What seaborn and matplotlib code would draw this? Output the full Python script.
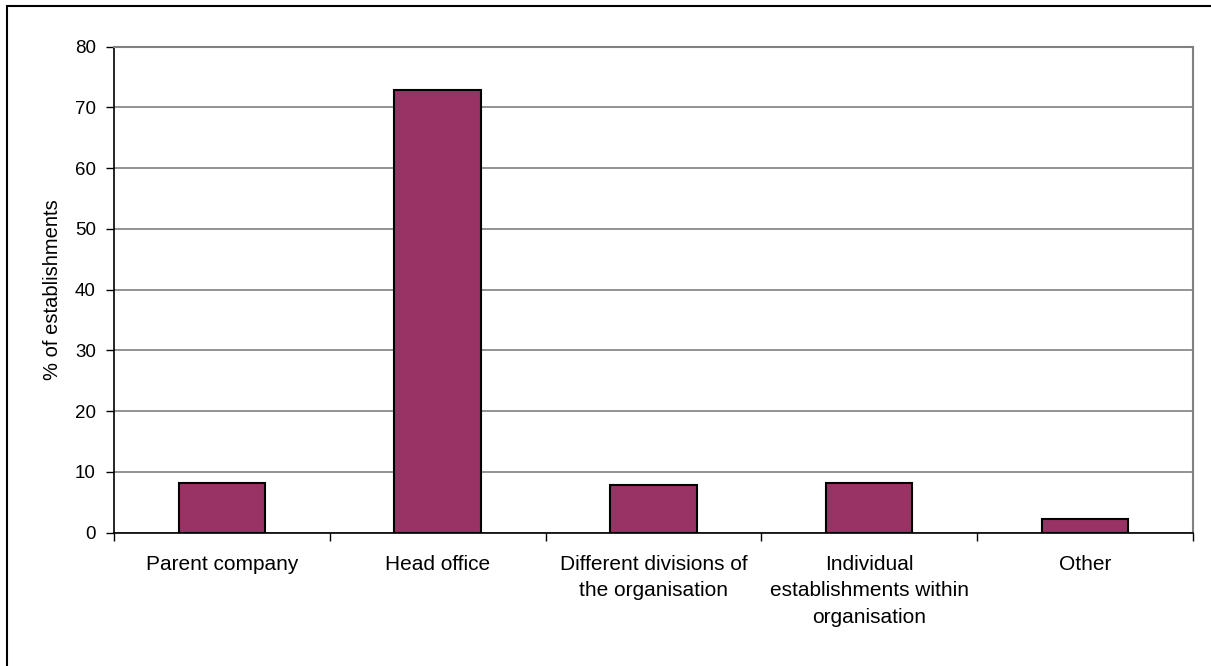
import matplotlib
matplotlib.use("Agg")
import matplotlib.pyplot as plt
import pandas as pd
import numpy as np
import seaborn as sns
from matplotlib.patches import Rectangle

categories = ['Parent company', 'Head office', 'Different divisions of\nthe organisation',
              'Individual\nestablishments within\norganisation', 'Other']
values = [8.2, 72.9, 7.9, 8.2, 2.3]
yticks = [0, 10, 20, 30, 40, 50, 60, 70, 80]


def main():
	sns.set_style("white")
	plt.rcParams['font.family'] = ['Liberation Sans', 'DejaVu Sans']
	plt.rcParams['text.color'] = 'black'
	plt.rcParams['xtick.color'] = 'black'
	plt.rcParams['ytick.color'] = 'black'
	plt.rcParams['axes.labelcolor'] = 'black'

	df = pd.DataFrame({'cat': categories, 'pct': values})

	fig = plt.figure(figsize=(12.11, 6.66), dpi=100)
	ax = fig.add_axes([0.0941, 0.2002, 0.8909, 0.7297])

	sns.barplot(data=df, x='cat', y='pct', color='#993366', saturation=1,
	            edgecolor='black', linewidth=1.5, width=0.4, ax=ax, zorder=3)

	ax.set_ylim(0, 80)
	ax.set_xlim(-0.5, 4.5)
	ax.set_yticks(yticks)
	ax.yaxis.grid(True, color='#808080', linewidth=1.2, zorder=0)
	ax.set_axisbelow(True)

	# category ticks sit between the bars
	ax.set_xticks(np.arange(len(categories)))
	ax.set_xticklabels(categories, fontsize=15, linespacing=1.5)
	ax.set_xticks(np.arange(-0.5, len(categories)), minor=True)
	ax.tick_params(axis='x', which='major', bottom=True, length=0, pad=16)
	ax.tick_params(axis='x', which='minor', bottom=True, length=6, width=1, direction='out')
	ax.tick_params(axis='y', left=True, length=6, width=1, direction='out', labelsize=13.5, pad=7)

	ax.set_xlabel('')
	ax.set_ylabel('% of establishments', fontsize=14.5, labelpad=9)

	for side in ['left', 'bottom']:
		ax.spines[side].set_color('black')
		ax.spines[side].set_linewidth(1.2)
	for side in ['top', 'right']:
		ax.spines[side].set_color('#808080')
		ax.spines[side].set_linewidth(1.5)
	ax.spines['bottom'].set_zorder(4)

	# outer chart frame
	fig.patches.append(Rectangle((0.0058, -0.5), 2, 1.491, transform=fig.transFigure,
	                             fill=False, edgecolor='black', linewidth=1.5))

	fig.savefig('out.png', dpi=100)


if __name__ == '__main__':
	main()
